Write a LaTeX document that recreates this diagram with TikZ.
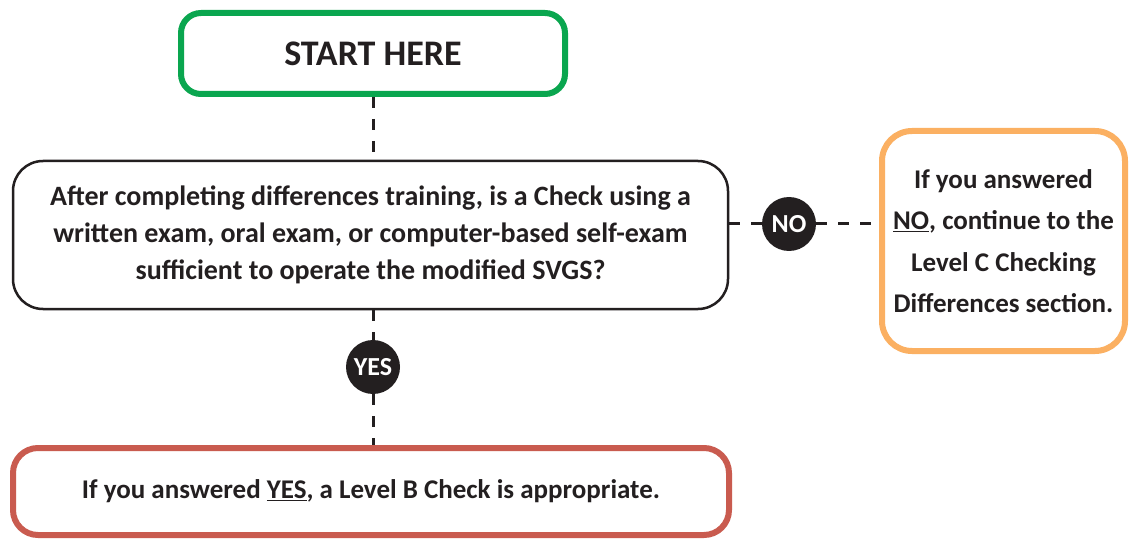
\documentclass[tikz,border=0pt]{standalone}
\usepackage{fontspec}
\setmainfont{Carlito}
\usetikzlibrary{backgrounds}
\definecolor{ink}{HTML}{231F20}
\definecolor{startgreen}{HTML}{0AA64F}
\definecolor{noorange}{HTML}{FBB062}
\definecolor{yesred}{HTML}{C95B4F}
\tikzset{
  box/.style={draw, rounded corners=#1, align=center, inner sep=0pt, text=ink,
    font=\bfseries\fontsize{28}{37}\selectfont},
  box/.default=30pt,
  badge/.style={circle, fill=ink, text=white, inner sep=0pt, minimum size=54pt,
    font=\bfseries\fontsize{26}{26}\selectfont},
  link/.style={draw=ink, line width=3pt, dash pattern=on 11pt off 11pt}
}
\begin{document}
\begin{tikzpicture}[x=1pt,y=-1pt]
\useasboundingbox (0,0) rectangle (1130,540);

\node[box=20pt, draw=startgreen, line width=6pt, minimum width=384pt, minimum height=81pt,
  font=\bfseries\fontsize{36}{36}\selectfont] (start) at (373,53.5) {START HERE};

\node[box, draw=ink, line width=2.5pt, minimum width=715pt, minimum height=148pt] (q) at (370.5,235)
  {After completing differences training, is a Check using a\\
   written exam, oral exam, or computer-based self-exam\\
   sufficient to operate the modified SVGS?};

\node[box, draw=noorange, line width=6pt, minimum width=243pt, minimum height=220pt,
  font=\bfseries\fontsize{27}{41.5}\selectfont] (nobox) at (1003.5,241)
  {If you answered\\ \underline{NO}, continue to the\\ Level C Checking\\ Differences section.};

\node[box=25pt, draw=yesred, line width=6pt, minimum width=716pt, minimum height=87pt,
  font=\bfseries\fontsize{27}{27}\selectfont] (yesbox) at (371,491.5)
  {If you answered \underline{YES}, a Level B Check is appropriate.};

\node[badge] (no) at (789,224) {NO};
\node[badge] (yes) at (373,367) {YES};

\begin{pgfonlayer}{background}
  \fill[white] (0,0) rectangle (1130,540);
  \draw[link] (start.south -| yes) -- (q.north -| yes);
  \draw[link] (q.south -| yes) -- (yes) -- (yesbox.north -| yes);
  \draw[link] (no -| q.east) -- (no) -- (no -| nobox.west);
\end{pgfonlayer}
\end{tikzpicture}
\end{document}
